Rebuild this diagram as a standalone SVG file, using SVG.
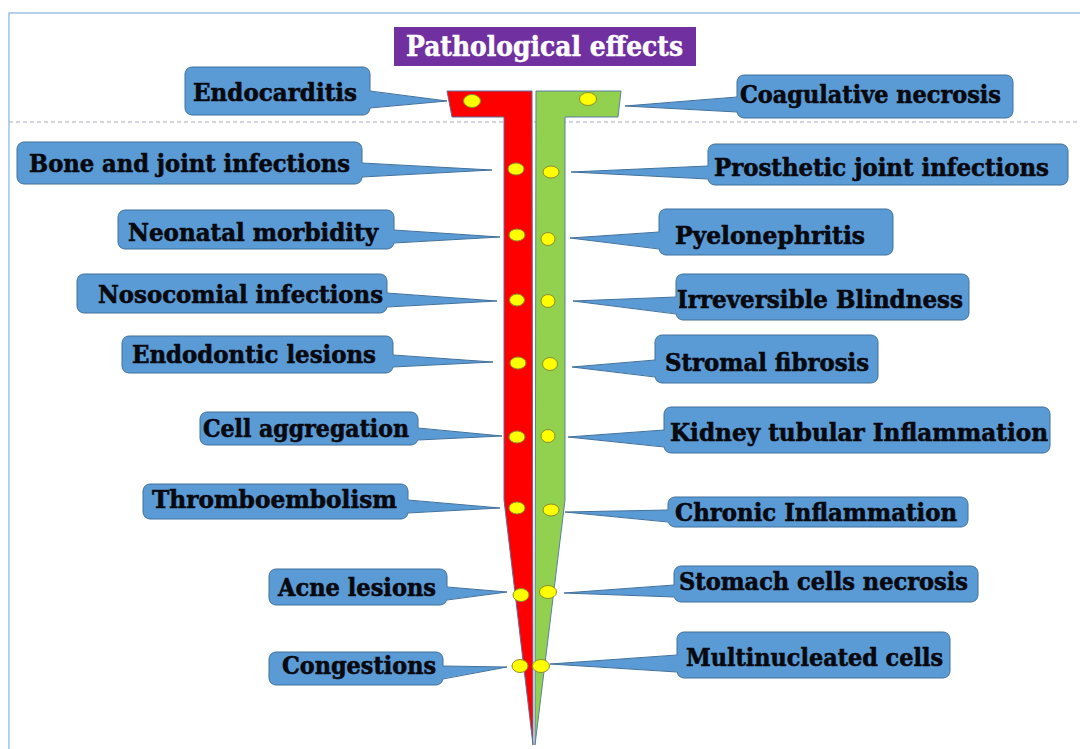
<svg xmlns="http://www.w3.org/2000/svg" width="1080" height="749" viewBox="0 0 1080 749">
<style>
.box{fill:#5b9bd5;stroke:#41719c;stroke-width:1}
.wedge{fill:#5b9bd5;stroke:none}
.wline{fill:none;stroke:#41719c;stroke-width:1}
.lbl{font-family:"DejaVu Serif","Liberation Serif",serif;font-weight:bold;font-size:24px;fill:#08080f;stroke:#08080f;stroke-width:0.6}
.dot{fill:#ffff00;stroke:#8c8c2a;stroke-width:1}
.title{font-family:"DejaVu Serif","Liberation Serif",serif;font-weight:bold;font-size:27px;fill:#ffffff;stroke:#ffffff;stroke-width:0.5}
</style>
<rect width="1080" height="749" fill="#ffffff"/>
<path d="M9,749 V13 H1080" fill="none" stroke="#9dc3e6" stroke-width="1.5"/>
<line x1="9" y1="122" x2="1080" y2="122" stroke="#a8a8c4" stroke-width="1" stroke-dasharray="4 3"/>

<g id="title">
<rect x="394" y="27" width="302" height="39" fill="#7030a0"/>
<text class="title" x="406" y="56" textLength="277" lengthAdjust="spacingAndGlyphs">Pathological effects</text>
</g>

<g id="n-endocarditis"><rect class="box" x="185" y="67" width="185" height="48" rx="7"/><text class="lbl" x="193" y="101" textLength="164" lengthAdjust="spacingAndGlyphs">Endocarditis</text></g>
<g id="n-bone"><rect class="box" x="17" y="142" width="345" height="42" rx="7"/><text class="lbl" x="29" y="172" textLength="321" lengthAdjust="spacingAndGlyphs">Bone and joint infections</text></g>
<g id="n-neonatal"><rect class="box" x="118" y="210" width="276" height="39" rx="7"/><text class="lbl" x="128" y="241" textLength="250" lengthAdjust="spacingAndGlyphs">Neonatal morbidity</text></g>
<g id="n-nosocomial"><rect class="box" x="77" y="274" width="310" height="39" rx="7"/><text class="lbl" x="98" y="303" textLength="285" lengthAdjust="spacingAndGlyphs">Nosocomial infections</text></g>
<g id="n-endodontic"><rect class="box" x="122" y="336" width="271" height="37" rx="7"/><text class="lbl" x="132" y="363" textLength="244" lengthAdjust="spacingAndGlyphs">Endodontic lesions</text></g>
<g id="n-cellagg"><rect class="box" x="200" y="412" width="218" height="33" rx="7"/><text class="lbl" x="203" y="437" textLength="206" lengthAdjust="spacingAndGlyphs">Cell aggregation</text></g>
<g id="n-thrombo"><rect class="box" x="143" y="484" width="265" height="35" rx="7"/><text class="lbl" x="152" y="508" textLength="245" lengthAdjust="spacingAndGlyphs">Thromboembolism</text></g>
<g id="n-acne"><rect class="box" x="269" y="569" width="178" height="36" rx="7"/><text class="lbl" x="278" y="596" textLength="158" lengthAdjust="spacingAndGlyphs">Acne lesions</text></g>
<g id="n-congestions"><rect class="box" x="269" y="652" width="174" height="33" rx="7"/><text class="lbl" x="282" y="674" textLength="154" lengthAdjust="spacingAndGlyphs">Congestions</text></g>

<g id="n-coagulative"><rect class="box" x="737" y="75" width="276" height="43" rx="7"/><text class="lbl" x="740" y="103" textLength="261" lengthAdjust="spacingAndGlyphs">Coagulative necrosis</text></g>
<g id="n-prosthetic"><rect class="box" x="708" y="144" width="360" height="41" rx="7"/><text class="lbl" x="714" y="176" textLength="335" lengthAdjust="spacingAndGlyphs">Prosthetic joint infections</text></g>
<g id="n-pyelo"><rect class="box" x="659" y="209" width="234" height="46" rx="7"/><text class="lbl" x="675" y="244" textLength="190" lengthAdjust="spacingAndGlyphs">Pyelonephritis</text></g>
<g id="n-blindness"><rect class="box" x="676" y="274" width="293" height="46" rx="7"/><text class="lbl" x="677" y="308" textLength="286" lengthAdjust="spacingAndGlyphs">Irreversible Blindness</text></g>
<g id="n-stromal"><rect class="box" x="655" y="335" width="223" height="48" rx="7"/><text class="lbl" x="665" y="371" textLength="204" lengthAdjust="spacingAndGlyphs">Stromal fibrosis</text></g>
<g id="n-kidney"><rect class="box" x="664" y="407" width="386" height="46" rx="7"/><text class="lbl" x="670" y="441" textLength="378" lengthAdjust="spacingAndGlyphs">Kidney tubular Inflammation</text></g>
<g id="n-chronic"><rect class="box" x="668" y="497" width="300" height="30" rx="7"/><text class="lbl" x="675" y="521" textLength="282" lengthAdjust="spacingAndGlyphs">Chronic Inflammation</text></g>
<g id="n-stomach"><rect class="box" x="674" y="566" width="304" height="36" rx="7"/><text class="lbl" x="679" y="590" textLength="289" lengthAdjust="spacingAndGlyphs">Stomach cells necrosis</text></g>
<g id="n-multinuc"><rect class="box" x="677" y="632" width="273" height="46" rx="7"/><text class="lbl" x="686" y="666" textLength="257" lengthAdjust="spacingAndGlyphs">Multinucleated cells</text></g>

<g id="connectors">
<polygon class="wedge" points="367,91 447,101 367,108"/><path class="wline" d="M370,91 L447,101 L370,108"/>
<polygon class="wedge" points="359,163 492,170 359,177"/><path class="wline" d="M362,163 L492,170 L362,177"/>
<polygon class="wedge" points="391,230 500,237 391,243"/><path class="wline" d="M394,230 L500,237 L394,243"/>
<polygon class="wedge" points="384,293 497,301 384,307"/><path class="wline" d="M387,293 L497,301 L387,307"/>
<polygon class="wedge" points="390,355 493,362 390,367"/><path class="wline" d="M393,355 L493,362 L393,367"/>
<polygon class="wedge" points="415,428 502,436 415,440"/><path class="wline" d="M418,428 L502,436 L418,440"/>
<polygon class="wedge" points="405,500 500,508 405,513"/><path class="wline" d="M408,500 L500,508 L408,513"/>
<polygon class="wedge" points="444,587 507,592 444,600"/><path class="wline" d="M447,587 L507,592 L447,600"/>
<polygon class="wedge" points="440,666 507,667 440,679"/><path class="wline" d="M443,666 L507,667 L443,679"/>

<polygon class="wedge" points="740,97 625,106 740,112"/><path class="wline" d="M737,97 L625,106 L737,112"/>
<polygon class="wedge" points="711,166 571,172 711,179"/><path class="wline" d="M708,166 L571,172 L708,179"/>
<polygon class="wedge" points="662,232 570,238 662,249"/><path class="wline" d="M659,232 L570,238 L659,249"/>
<polygon class="wedge" points="679,297 573,301 679,314"/><path class="wline" d="M676,297 L573,301 L676,314"/>
<polygon class="wedge" points="658,360 572,367 658,377"/><path class="wline" d="M655,360 L572,367 L655,377"/>
<polygon class="wedge" points="667,430 568,437 667,447"/><path class="wline" d="M664,430 L568,437 L664,447"/>
<polygon class="wedge" points="671,510 565,512 671,522"/><path class="wline" d="M668,510 L565,512 L668,522"/>
<polygon class="wedge" points="677,585 564,593 677,597"/><path class="wline" d="M674,585 L564,593 L674,597"/>
<polygon class="wedge" points="680,655 550,664 680,672"/><path class="wline" d="M677,655 L550,664 L677,672"/>
</g>

<g id="spine">
<path d="M447,91 L532,91 L533,745 L504,500 L504,117 L452,117 Z" fill="#ff0000" stroke="#5a6f9c" stroke-width="1"/>
<path d="M536,91 L621,91 L618,117 L565,117 L565,500 L535,745 Z" fill="#92d050" stroke="#5a7fa0" stroke-width="1"/>
<ellipse class="dot" cx="472" cy="101" rx="8.5" ry="6.5"/>
<ellipse class="dot" cx="588" cy="99" rx="8.5" ry="6.5"/>
<ellipse class="dot" cx="516" cy="169" rx="8" ry="6"/>
<ellipse class="dot" cx="551" cy="172" rx="8" ry="6"/>
<ellipse class="dot" cx="517" cy="235" rx="8" ry="6"/>
<ellipse class="dot" cx="548" cy="239" rx="7" ry="6.5"/>
<ellipse class="dot" cx="517" cy="300" rx="7.5" ry="6"/>
<ellipse class="dot" cx="548" cy="301" rx="7" ry="6.5"/>
<ellipse class="dot" cx="518" cy="363" rx="8" ry="6"/>
<ellipse class="dot" cx="550" cy="364" rx="7.5" ry="6.5"/>
<ellipse class="dot" cx="517" cy="437" rx="8" ry="6"/>
<ellipse class="dot" cx="548" cy="436" rx="7" ry="6.5"/>
<ellipse class="dot" cx="517" cy="508" rx="8" ry="6"/>
<ellipse class="dot" cx="551" cy="510" rx="8" ry="6"/>
<ellipse class="dot" cx="521" cy="595" rx="8" ry="6.5"/>
<ellipse class="dot" cx="548" cy="592" rx="8.5" ry="6.5"/>
<ellipse class="dot" cx="520" cy="666" rx="8" ry="6.5"/>
<ellipse class="dot" cx="541" cy="666" rx="8.5" ry="6.5"/>
</g>
</svg>
